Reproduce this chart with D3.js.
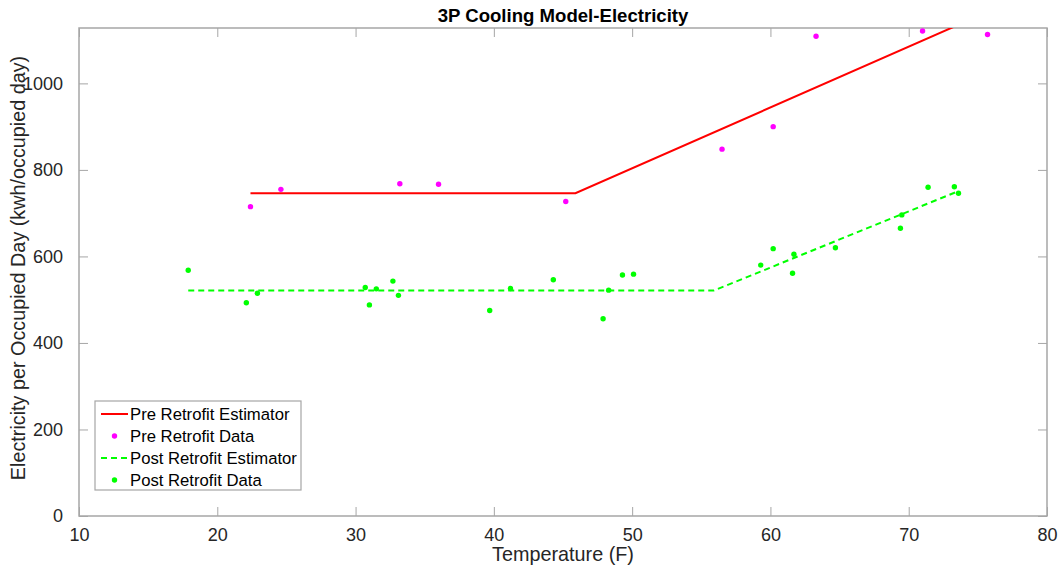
<!DOCTYPE html>
<html>
<head>
<meta charset="utf-8">
<script src="https://cdn.jsdelivr.net/npm/d3@7/dist/d3.min.js"></script>
<style>
  html, body { margin: 0; padding: 0; background: #fff; }
  svg { display: block; font-family: "Liberation Sans", Arial, sans-serif; }
</style>
</head>
<body>
<svg id="chart" width="1062" height="571"></svg>
<script>
// Pre-retrofit measurements (temperature F, kWh per occupied day)
const preTemp  = [22.4, 24.6, 33.2, 36.0, 45.2, 56.5, 60.2, 63.3, 71.0, 75.7];
const preKwh   = [715, 755, 768, 767, 727, 848, 900, 1109, 1121, 1113];

// Post-retrofit measurements
const postTemp = [17.9, 22.1, 22.9, 30.7, 31.0, 31.5, 32.7, 33.1, 39.7, 41.2, 44.3,
                  47.9, 48.3, 49.3, 50.1, 59.3, 60.2, 61.6, 61.7, 64.7, 69.4, 69.5,
                  71.4, 73.3, 73.6];
const postKwh  = [568, 493, 515, 528, 488, 525, 543, 510, 475, 526, 546,
                  456, 522, 557, 559, 580, 618, 561, 605, 620, 665, 696,
                  760, 761, 746];

// Three-parameter cooling model fits: flat baseline then a linear rise past the change point
const preFitTemp  = [22.4, 45.9, 75.7];
const preFitKwh   = [746, 746, 1165];
const postFitTemp = [17.9, 55.9, 73.6];
const postFitKwh  = [521, 521, 751];

const xTicks = [10, 20, 30, 40, 50, 60, 70, 80];
const yTicks = [0, 200, 400, 600, 800, 1000];

const chartTitle = "3P Cooling Model-Electricity";
const xLabel = "Temperature (F)";
const yLabel = "Electricity per Occupied Day (kwh/occupied day)";
const legendItems = [
  { label: "Pre Retrofit Estimator",  kind: "line",  color: "#ff0000", dash: null },
  { label: "Pre Retrofit Data",       kind: "dot",   color: "#ff00ff" },
  { label: "Post Retrofit Estimator", kind: "line",  color: "#00ff00", dash: "6,4" },
  { label: "Post Retrofit Data",      kind: "dot",   color: "#00ff00" }
];

const svg = d3.select("#chart");
const m = { left: 79, right: 1047, top: 28, bottom: 516 };
const axisColor = "#a6a6a6";
const textColor = "#262626";
const tickLen = 9;

const x = d3.scaleLinear().domain([10, 80]).range([m.left, m.right]);
const y = d3.scaleLinear().domain([0, 1128]).range([m.bottom, m.top]);

svg.append("defs").append("clipPath").attr("id", "plotClip")
  .append("rect")
  .attr("x", m.left).attr("y", m.top)
  .attr("width", m.right - m.left).attr("height", m.bottom - m.top);

// Axes with inward ticks on all four sides
function styleAxis(g) {
  g.selectAll(".domain").remove();
  g.selectAll(".tick line").attr("stroke", axisColor).attr("stroke-width", 1);
  g.selectAll(".tick text").attr("fill", textColor)
    .attr("font-size", 18).attr("font-family", "Liberation Sans, Arial, sans-serif");
}
svg.append("g").attr("transform", `translate(0,${m.bottom})`)
  .call(d3.axisBottom(x).tickValues(xTicks).tickFormat(d3.format("d"))
        .tickSizeInner(-tickLen).tickSizeOuter(0).tickPadding(12))
  .call(styleAxis);
svg.append("g").attr("transform", `translate(0,${m.top})`)
  .call(d3.axisTop(x).tickValues(xTicks).tickFormat("")
        .tickSizeInner(-tickLen).tickSizeOuter(0))
  .call(styleAxis);
svg.append("g").attr("transform", `translate(${m.left},0)`)
  .call(d3.axisLeft(y).tickValues(yTicks).tickFormat(d3.format("d"))
        .tickSizeInner(-tickLen).tickSizeOuter(0).tickPadding(16))
  .call(styleAxis);
svg.append("g").attr("transform", `translate(${m.right},0)`)
  .call(d3.axisRight(y).tickValues(yTicks).tickFormat("")
        .tickSizeInner(-tickLen).tickSizeOuter(0))
  .call(styleAxis);

svg.append("rect")
  .attr("x", m.left).attr("y", m.top)
  .attr("width", m.right - m.left).attr("height", m.bottom - m.top)
  .attr("fill", "none").attr("stroke", axisColor).attr("stroke-width", 1.5);

// Fitted model lines
const line = d3.line().x(d => x(d[0])).y(d => y(d[1]));
const plot = svg.append("g").attr("clip-path", "url(#plotClip)");

plot.append("path")
  .datum(d3.zip(preFitTemp, preFitKwh))
  .attr("d", line)
  .attr("fill", "none").attr("stroke", "#ff0000").attr("stroke-width", 2);

plot.append("path")
  .datum(d3.zip(postFitTemp, postFitKwh))
  .attr("d", line)
  .attr("fill", "none").attr("stroke", "#00ff00").attr("stroke-width", 2)
  .attr("stroke-dasharray", "6,4");

// Measured points
svg.append("g").selectAll("circle")
  .data(d3.zip(preTemp, preKwh))
  .join("circle")
  .attr("cx", d => x(d[0])).attr("cy", d => y(d[1]))
  .attr("r", 2.7).attr("fill", "#ff00ff");

svg.append("g").selectAll("circle")
  .data(d3.zip(postTemp, postKwh))
  .join("circle")
  .attr("cx", d => x(d[0])).attr("cy", d => y(d[1]))
  .attr("r", 2.7).attr("fill", "#00ff00");

// Titles
svg.append("text")
  .attr("x", (m.left + m.right) / 2).attr("y", 22)
  .attr("text-anchor", "middle").attr("font-weight", "bold")
  .attr("font-size", 18.6).attr("fill", "#000")
  .text(chartTitle);

svg.append("text")
  .attr("x", (m.left + m.right) / 2).attr("y", 561)
  .attr("text-anchor", "middle").attr("font-size", 19.8).attr("fill", textColor)
  .text(xLabel);

svg.append("text")
  .attr("transform", `translate(25,${(m.top + m.bottom) / 2 - 4}) rotate(-90)`)
  .attr("text-anchor", "middle").attr("font-size", 19.8).attr("fill", textColor)
  .text(yLabel);

// Legend
const lg = svg.append("g").attr("transform", "translate(95,401)");
lg.append("rect").attr("width", 206).attr("height", 89)
  .attr("fill", "#fff").attr("stroke", axisColor).attr("stroke-width", 1.2);
const rowY = d3.scalePoint().domain(legendItems.map(d => d.label)).range([13, 79]);
legendItems.forEach(item => {
  const gy = rowY(item.label);
  if (item.kind === "line") {
    lg.append("line").attr("x1", 6).attr("x2", 33).attr("y1", gy).attr("y2", gy)
      .attr("stroke", item.color).attr("stroke-width", 2)
      .attr("stroke-dasharray", item.dash);
  } else {
    lg.append("circle").attr("cx", 19.5).attr("cy", gy).attr("r", 2.7).attr("fill", item.color);
  }
  lg.append("text").attr("x", 35).attr("y", gy + 6)
    .attr("font-size", 16.7).attr("fill", "#000").text(item.label);
});
</script>
</body>
</html>
